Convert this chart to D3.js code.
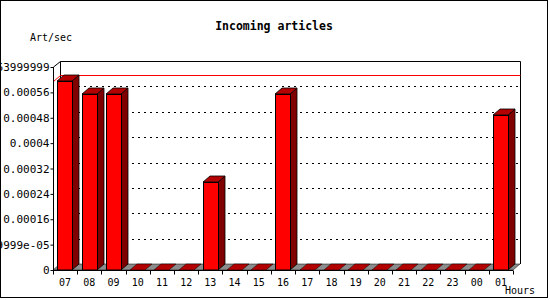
<!DOCTYPE html>
<html><head><meta charset="utf-8">
<script src="https://cdn.jsdelivr.net/npm/d3@7"></script>
<style>body{margin:0;background:#fff}svg{display:block}</style>
</head><body>
<script>
const hours = ["07","08","09","10","11","12","13","14","15","16","17","18","19","20","21","22","23","00","01"];
const artPerSec = [0.000596,0.000556,0.000556,0,0,0,0.000278,0,0,0.000556,0,0,0,0,0,0,0,0,0.00049];
const yTicks = [0,0.00008,0.00016,0.00024,0.00032,0.0004,0.00048,0.00056,0.00064];
const yTickLabels = ["0","7.9999999e-05","0.00016","0.00024","0.00032","0.0004","0.00048","0.00056","0.00063999999"];
const titleText = "Incoming articles";
const yUnit = "Art/sec";
const xUnit = "Hours";

const W = 550, H = 300;
const DX = 7, DY = 6;
const svg = d3.select("body").append("svg").attr("width", W).attr("height", H);
svg.append("rect").attr("x",0.5).attr("y",0.5).attr("width",547).attr("height",297)
  .attr("fill","#fff").attr("stroke","#000");

const x = d3.scaleBand().domain(hours).range([53, 513]);
const y = d3.scaleLinear().domain([0, 0.00064]).range([270, 67]);
const bw = x.bandwidth();
const barOff = bw*0.185, barW = bw*0.62;

// back plane
const g = svg.append("g");
g.append("path").attr("d", `M${53+DX+0.5},${270-DY} V${67-DY+0.5} H${513+DX+0.5} V${270-DY}`)
  .attr("fill","none").attr("stroke","#000");
g.append("line").attr("x1",53.5).attr("y1",67).attr("x2",53+DX+0.5).attr("y2",67-DY+0.5).attr("stroke","#000");

// gridlines on back plane
yTicks.slice(1,-1).forEach(t=>{
  g.append("line").attr("x1",53+DX).attr("x2",513+DX).attr("y1",Math.round(y(t)-DY)+0.5).attr("y2",Math.round(y(t)-DY)+0.5)
   .attr("stroke","#000").attr("stroke-dasharray","2,4");
});

// max line
const maxV = d3.max(artPerSec);
const my = Math.round(y(maxV))+0.5;
g.append("path").attr("d",`M53.5,${my} L${53+DX+0.5},${my-DY} H${513+DX+0.5}`).attr("fill","none").attr("stroke","#ff0000");

// floor
g.append("path").attr("d",`M53,270 L${53+DX},${270-DY} H${513+DX} L513,270 Z`).attr("fill","#8c8c8c").attr("stroke","#000").attr("stroke-width",0.5);

// bars
hours.forEach((h,i)=>{
  const v = artPerSec[i];
  const x0 = Math.round(x(h)+barOff), x1 = Math.round(x(h)+barOff+barW);
  const y0 = 270, yt = Math.round(y(v));
  const bg = g.append("g");
  if (v > 0) {
    bg.append("path").attr("d",`M${x1},${yt} L${x1+DX},${yt-DY} V${y0-DY} L${x1},${y0} Z`).attr("fill","#800000").attr("stroke","#000").attr("stroke-width",0.8);
    bg.append("path").attr("d",`M${x0},${yt} L${x0+DX},${yt-DY} H${x1+DX} L${x1},${yt} Z`).attr("fill","#b30000").attr("stroke","#000").attr("stroke-width",0.8);
    bg.append("rect").attr("x",x0+0.5).attr("y",yt+0.5).attr("width",x1-x0).attr("height",y0-yt-0.5).attr("fill","#ff0000").attr("stroke","#000");
  } else {
    bg.append("path").attr("d",`M${x0},${y0} L${x0+DX},${y0-DY} H${x1+DX} L${x1},${y0} Z`).attr("fill","#b30000").attr("stroke","#000").attr("stroke-width",0.5);
  }
});

// axes
const yAxis = d3.axisLeft(y).tickValues(yTicks).tickSize(3).tickFormat((d,i)=>yTickLabels[i]);
const ya = svg.append("g").attr("transform","translate(53.5,0)").call(yAxis);
ya.select(".domain").attr("d","M0,67V270");
ya.selectAll("text").attr("font-family","DejaVu Sans Mono").attr("font-size","11px").attr("fill","#000").attr("x",-4);
const xAxis = d3.axisBottom(x).tickSize(0).tickPadding(8);
const xa = svg.append("g").attr("transform","translate(0,270.5)").call(xAxis);
xa.select(".domain").attr("d","M53,0H513");
xa.selectAll("text").attr("font-family","DejaVu Sans Mono").attr("font-size","10px").attr("fill","#000");
hours.concat(["end"]).forEach((h,i)=>{
  const xx = Math.round(53 + i*bw)+0.5;
  xa.append("line").attr("x1",xx).attr("x2",xx).attr("y1",0).attr("y2",4).attr("stroke","#000");
});

// titles
svg.append("text").attr("x",274).attr("y",30).attr("text-anchor","middle")
  .attr("font-family","DejaVu Sans Mono").attr("font-weight","bold").attr("font-size","11.5px").text(titleText);
svg.append("text").attr("x",30).attr("y",41).attr("font-family","DejaVu Sans Mono").attr("font-size","10px").text(yUnit);
svg.append("text").attr("x",505).attr("y",294).attr("font-family","DejaVu Sans Mono").attr("font-size","10px").text(xUnit);
</script>
</body></html>
